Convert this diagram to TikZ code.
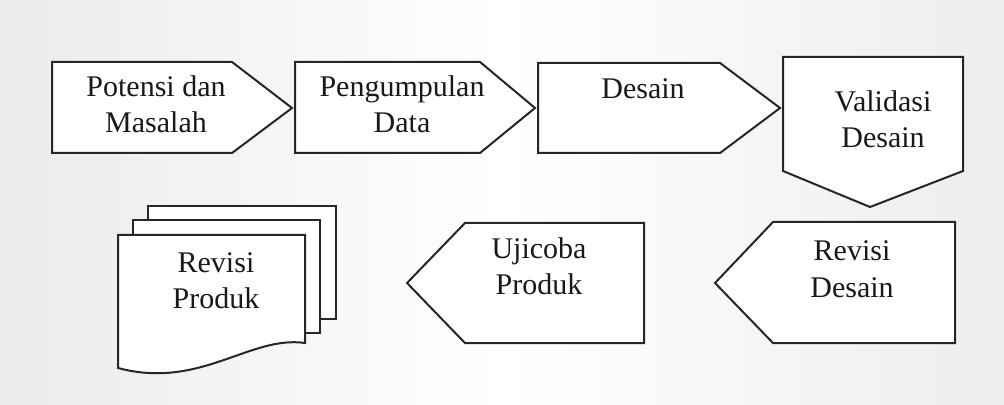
\documentclass[tikz,border=0pt]{standalone}
\usepackage{fontspec}
\setmainfont{Liberation Serif}
\begin{document}
\begin{tikzpicture}[x=0.5pt,y=-0.5pt,
  outline/.style={draw=black!85,line width=1pt,fill=white,line join=miter},
  lbl/.style={font=\fontsize{15}{18}\selectfont,align=center,anchor=base,inner sep=0pt,text=black!90}]
  \shade[left color=black!8,right color=black!7,middle color=white] (0,0) rectangle (1004,405);
  \useasboundingbox (0,0) rectangle (1004,405);
  % top row
  \draw[outline] (52,62) -- (232,62) -- (292,108) -- (232,153) -- (52,153) -- cycle;
  \draw[outline] (295,62) -- (480,62) -- (535,108) -- (480,153) -- (295,153) -- cycle;
  \draw[outline] (538,63) -- (720,63) -- (780,108) -- (720,153) -- (538,153) -- cycle;
  \draw[outline] (783,57) -- (963,57) -- (963,171) -- (870,207) -- (783,171) -- cycle;
  % bottom row
  \draw[outline] (955,222) -- (955,343) -- (773,343) -- (715,283) -- (773,222) -- cycle;
  \draw[outline] (644,223) -- (644,343) -- (465,343) -- (407,283) -- (465,223) -- cycle;
  % multi-document
  \draw[outline] (148,206) rectangle (336,319);
  \draw[outline] (133,220) rectangle (320,333);
  \draw[outline] (118,235) -- (305,235) -- (305,343) .. controls (250,335) and (200,390) .. (118,368) -- cycle;
  % labels (anchor = baseline of the last line)
  \node[lbl] (potensi) at (156,133) {Potensi dan\\Masalah};
  \node[lbl] (pengumpulan) at (402,133) {Pengumpulan\\Data};
  \node[lbl] (desain) at (643,99) {Desain};
  \node[lbl] (validasi) at (883,148) {Validasi\\Desain};
  \node[lbl] (revdesain) at (852,297) {Revisi\\Desain};
  \node[lbl] (ujicoba) at (539,294) {Ujicoba\\Produk};
  \node[lbl] (revproduk) at (216,308) {Revisi\\Produk};
\end{tikzpicture}
\end{document}
